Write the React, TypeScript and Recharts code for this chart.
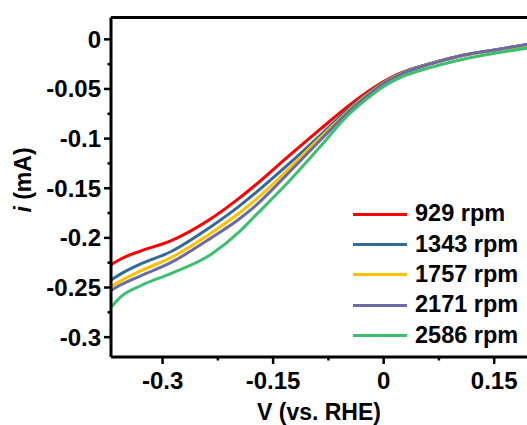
import React from 'react';
import { LineChart, Line, XAxis, YAxis, ReferenceLine, Legend } from 'recharts';

// Potential (V vs. RHE)
const potentials = [-0.37, -0.356, -0.329, -0.289, -0.235, -0.196, -0.176, -0.131, -0.086, -0.047, -0.027, 0, 0.018, 0.063, 0.108, 0.153, 0.195];

// Current (mA) per rotation speed
const rpm929 = [-0.227, -0.221, -0.213, -0.203, -0.181, -0.16, -0.148, -0.119, -0.0905, -0.0665, -0.0555, -0.0425, -0.0355, -0.0245, -0.016, -0.0104, -0.0055];
const rpm1343 = [-0.2425, -0.236, -0.226, -0.214, -0.189, -0.168, -0.156, -0.127, -0.0966, -0.0695, -0.0575, -0.0435, -0.036, -0.0245, -0.016, -0.0104, -0.0052];
const rpm1757 = [-0.249, -0.243, -0.233, -0.22, -0.1955, -0.175, -0.163, -0.132, -0.099, -0.0715, -0.0585, -0.044, -0.0365, -0.025, -0.0163, -0.0106, -0.0055];
const rpm2171 = [-0.253, -0.247, -0.238, -0.225, -0.2005, -0.181, -0.169, -0.136, -0.1016, -0.0725, -0.0595, -0.0445, -0.037, -0.025, -0.016, -0.0104, -0.005];
const rpm2586 = [-0.27, -0.259, -0.248, -0.236, -0.217, -0.194, -0.179, -0.145, -0.108, -0.0755, -0.0625, -0.0475, -0.04, -0.0285, -0.02, -0.0138, -0.0088];

const seriesNames = ['929 rpm', '1343 rpm', '1757 rpm', '2171 rpm', '2586 rpm'];
const seriesKeys = ['r929', 'r1343', 'r1757', 'r2171', 'r2586'];
const seriesColors = ['#FF0000', '#336A9C', '#FFC000', '#6C6AA4', '#3CC070'];
const seriesValues = [rpm929, rpm1343, rpm1757, rpm2171, rpm2586];

const xMajorTicks = [-0.3, -0.15, 0, 0.15];
const xMinorTicks = [-0.225, -0.075, 0.075];
const yMajorTicks = [0, -0.05, -0.1, -0.15, -0.2, -0.25, -0.3];
const yMinorTicks = [-0.025, -0.075, -0.125, -0.175, -0.225, -0.275];

const X_DOMAIN: [number, number] = [-0.37, 0.1945];
const Y_DOMAIN: [number, number] = [-0.32, 0.022];

const data = potentials.map((v, i) => {
  const row: Record<string, number> = { v };
  seriesKeys.forEach((k, j) => {
    row[k] = seriesValues[j][i];
  });
  return row;
});

const FONT = "'Liberation Sans', Arial, sans-serif";
const TICK_FONT_SIZE = 24;

const isIn = (arr: number[], v: number) => arr.some((a) => Math.abs(a - v) < 1e-9);

const XTick = (props: any) => {
  const { x, y, payload } = props;
  const major = isIn(xMajorTicks, payload.value);
  return (
    <g>
      <line x1={x} y1={y} x2={x} y2={y + (major ? 7 : 3.5)} stroke="#000" strokeWidth={2.5} />
      {major && (
        <text x={x} y={y + 32} textAnchor="middle" fontFamily={FONT} fontWeight="bold" fontSize={TICK_FONT_SIZE} fill="#000">
          {String(payload.value)}
        </text>
      )}
    </g>
  );
};

const YTick = (props: any) => {
  const { x, y, payload } = props;
  const major = isIn(yMajorTicks, payload.value);
  return (
    <g>
      <line x1={x - (major ? 7 : 3.5)} y1={y} x2={x} y2={y} stroke="#000" strokeWidth={2.5} />
      {major && (
        <text x={x - 10} y={y + 8.5} textAnchor="end" fontFamily={FONT} fontWeight="bold" fontSize={TICK_FONT_SIZE} fill="#000">
          {String(payload.value)}
        </text>
      )}
    </g>
  );
};

const XLabel = (props: any) => {
  const vb = props.viewBox || {};
  return (
    <text x={vb.x + vb.width / 2} y={vb.y + 63} textAnchor="middle" fontFamily={FONT} fontWeight="bold" fontSize={23} fill="#000">
      V (vs. RHE)
    </text>
  );
};

const YLabel = () => {
  const cx = 31;
  const cy = 180;
  return (
    <text x={cx} y={cy} transform={`rotate(-90 ${cx} ${cy})`} textAnchor="middle" fontFamily={FONT} fontWeight="bold" fontSize={23} fill="#000">
      <tspan fontStyle="italic">i</tspan>
      <tspan> (mA)</tspan>
    </text>
  );
};

const renderLegend = () => (
  <div style={{ margin: 0, padding: 0 }}>
    {seriesNames.map((name, i) => (
      <div key={name} style={{ display: 'flex', alignItems: 'center', height: 30.3 }}>
        <div style={{ width: 54, height: 3, background: seriesColors[i] }} />
        <span style={{ marginLeft: 8, fontFamily: FONT, fontWeight: 'bold', fontSize: 23.5, lineHeight: 1, color: '#000', whiteSpace: 'nowrap' }}>
          {name}
        </span>
      </div>
    ))}
  </div>
);

export default function App() {
  return (
    <div style={{ position: 'absolute', left: 0, top: 0, width: 527, height: 425, background: '#fff' }}>
      <LineChart width={527} height={425} data={data} margin={{ top: 17.5, right: 0, left: 0, bottom: 0 }}>
        <XAxis
          dataKey="v"
          type="number"
          domain={X_DOMAIN}
          allowDataOverflow
          ticks={[...xMajorTicks, ...xMinorTicks]}
          interval={0}
          height={68}
          tickSize={0}
          tickMargin={0}
          tickLine={false}
          axisLine={{ stroke: '#000', strokeWidth: 3 }}
          tick={<XTick />}
          label={<XLabel />}
        />
        <YAxis
          type="number"
          domain={Y_DOMAIN}
          allowDataOverflow
          ticks={[...yMajorTicks, ...yMinorTicks]}
          interval={0}
          width={111}
          tickSize={0}
          tickMargin={0}
          tickLine={false}
          axisLine={{ stroke: '#000', strokeWidth: 3 }}
          tick={<YTick />}
          label={<YLabel />}
        />
        <ReferenceLine y={Y_DOMAIN[1]} stroke="#000" strokeWidth={3} ifOverflow="extendDomain" />
        {seriesKeys.map((k, i) => (
          <Line
            key={k}
            type="monotone"
            dataKey={k}
            name={seriesNames[i]}
            stroke={seriesColors[i]}
            strokeWidth={3}
            dot={false}
            activeDot={false}
            isAnimationActive={false}
          />
        ))}
        <Legend
          layout="horizontal"
          verticalAlign="middle"
          align="center"
          content={renderLegend}
          wrapperStyle={{ position: 'absolute', left: 353, top: 199, width: 174, margin: 0, padding: 0 }}
        />
      </LineChart>
    </div>
  );
}
